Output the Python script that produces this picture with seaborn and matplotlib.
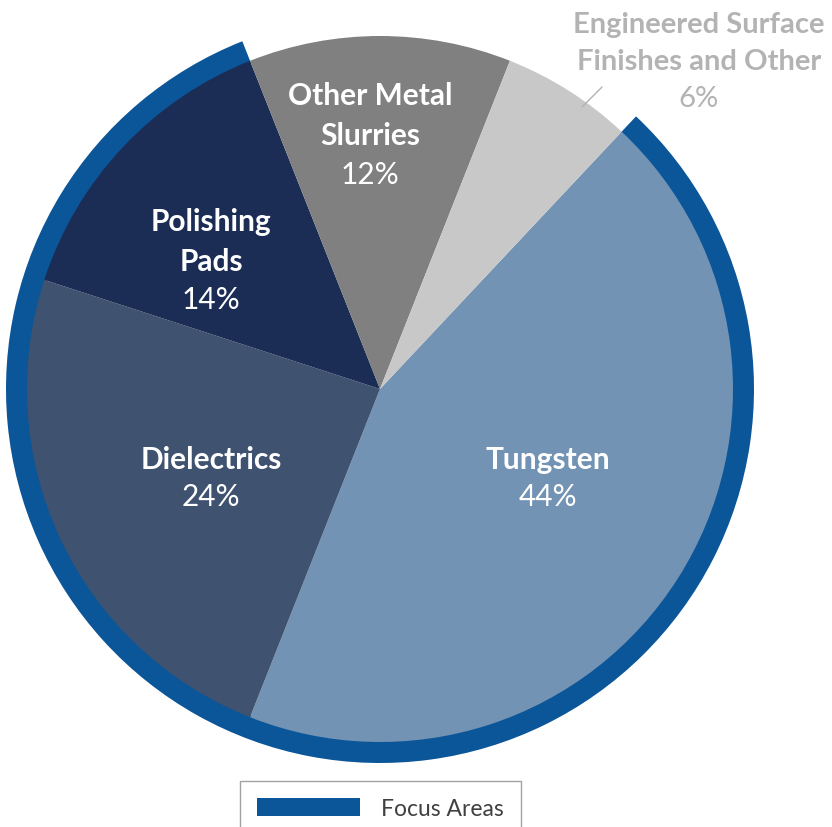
import matplotlib
matplotlib.use("Agg")
import matplotlib.pyplot as plt
from matplotlib.patches import Patch
import seaborn as sns

sns.set_theme(style="white")
plt.rcParams['font.family'] = ['Lato', 'DejaVu Sans']

# ---- data ----
categories = ["Tungsten", "Dielectrics", "Polishing Pads",
              "Other Metal Slurries", "Engineered Surface Finishes and Other"]
shares = [44, 24, 14, 12, 6]
focus = [True, True, True, False, False]
legend_label = "Focus Areas"

colors = ["#7293B3", "#3F526F", "#1B2D55", "#808080", "#C8C8C8"]
ring_color = "#0B5599"

W, H = 832, 828
fig = plt.figure(figsize=(W / 100, H / 100), dpi=100)
ax = fig.add_axes([0, 0, 1, 1])
ax.set_xlim(0, W)
ax.set_ylim(0, H)
ax.set_aspect("equal")
ax.axis("off")

cx, cy = 380, H - 390
r_in = 353
r_out = 374
start = 46.8

focus_total = sum(s for s, f in zip(shares, focus) if f)
other_total = sum(s for s, f in zip(shares, focus) if not f)

# focus ring
ax.pie([focus_total, other_total], radius=r_out, center=(cx, cy),
       startangle=start, counterclock=False,
       colors=[ring_color, (1, 1, 1, 0)],
       wedgeprops=dict(width=r_out - r_in + 2, linewidth=0), frame=True)
# main pie
ax.pie(shares, radius=r_in, center=(cx, cy), startangle=start,
       counterclock=False, colors=colors,
       wedgeprops=dict(linewidth=0), frame=True)
ax.set_xlim(0, W)
ax.set_ylim(0, H)
ax.axis("off")

def px(x, y):
    return x, H - y

fs = 21.5
white = "white"
labels = [
    (["Tungsten", "44%"], 548, [460, 497], white, fs),
    (["Dielectrics", "24%"], 211, [460, 497], white, fs),
    (["Polishing", "Pads", "14%"], 211, [222, 262, 300], white, fs),
    (["Other Metal", "Slurries", "12%"], 370, [96, 136, 175], white, fs),
    (["Engineered Surface", "Finishes and Other", "6%"], 699, [25, 62, 99], "#B3B3B3", 21),
]
for (lines, x, ys, col, size), share in zip(labels, shares):
    for i, (line, y) in enumerate(zip(lines, ys)):
        is_pct = i == len(lines) - 1
        ax.text(*px(x, y), line, ha="center", va="center",
                fontsize=size, color=col,
                fontweight="normal" if is_pct else "bold")

# leader line for the small slice
ax.plot([582, 602], [H - 108, H - 88], color="#B3B3B3", lw=1)

handle = Patch(facecolor=ring_color, edgecolor="none", label=legend_label)
leg = fig.legend(handles=[handle], loc="upper left",
                 bbox_to_anchor=(240 / W, 1 - 782 / H),
                 bbox_transform=fig.transFigure,
                 borderaxespad=0, fontsize=16.5, frameon=True,
                 fancybox=False, edgecolor="#8C8C8C",
                 handlelength=4.5, handleheight=0.8, handletextpad=0.9,
                 borderpad=0.75)
leg.get_frame().set_linewidth(1)
for t in leg.get_texts():
    t.set_color("#404040")

fig.savefig("out.png", dpi=100, facecolor="white")
